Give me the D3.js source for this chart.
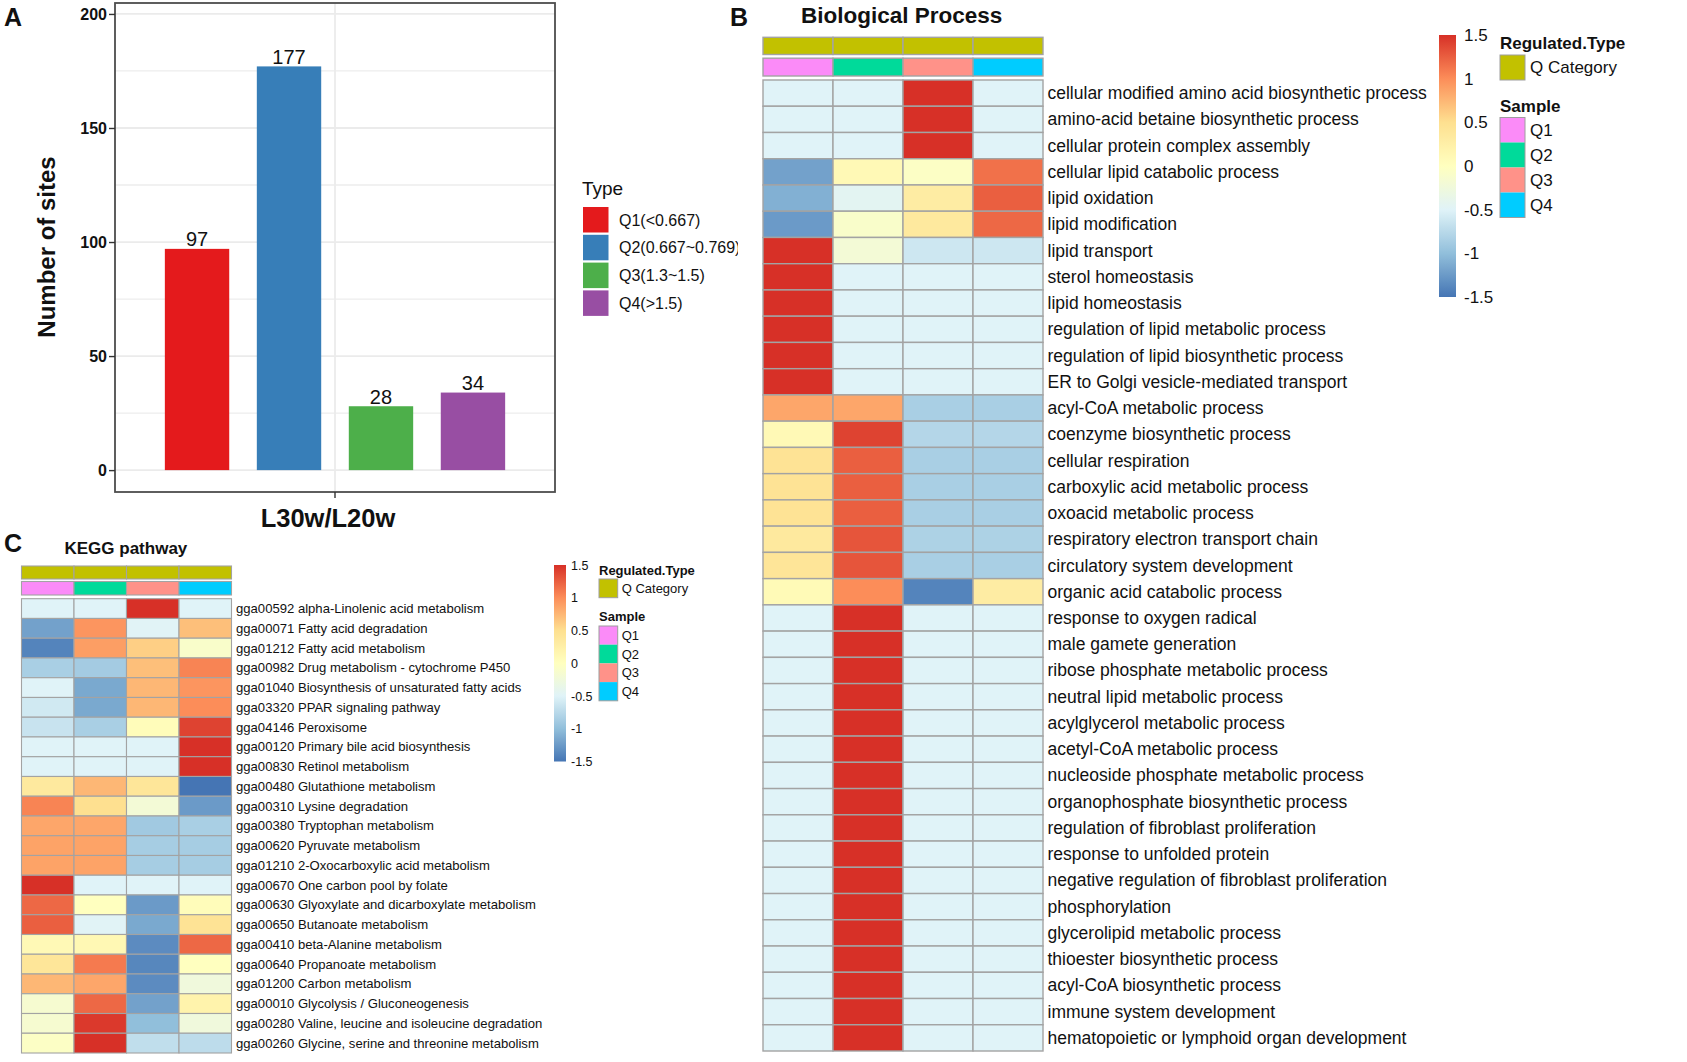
<!DOCTYPE html>
<html>
<head>
<meta charset="utf-8">
<script src="https://cdn.jsdelivr.net/npm/d3@7"></script>
<style>
  body { margin: 0; background: #fff; }
  svg { display: block; font-family: "Liberation Sans", Arial, Helvetica, sans-serif; }
</style>
</head>
<body>
<script>
// ---------------- DATA ----------------
// Panel A: bar chart
const barGroup = ["L30w/L20w"];
const barCategories = ["Q1(<0.667)", "Q2(0.667~0.769)", "Q3(1.3~1.5)", "Q4(>1.5)"];
const barValues = [97, 177, 28, 34];
const barColors = ["#E41A1C", "#377EB8", "#4DAF4A", "#984EA3"];
const yTicksA = [0, 50, 100, 150, 200];
const yMinorA = [25, 75, 125, 175];

// Heatmap shared
const samples = ["Q1", "Q2", "Q3", "Q4"];
const sampleColors = ["#FB8BF8", "#00DA9A", "#FF9289", "#00CCFF"];
const regulatedType = ["Q Category"];
const regulatedColor = ["#C2C100"];
const colorbarTicks = [1.5, 1, 0.5, 0, -0.5, -1, -1.5];
const paletteStops = [-1.5, -1, -0.5, 0, 0.5, 1, 1.5];
const paletteColors = ["#4575B4", "#91BFDB", "#E0F3F8", "#FFFFBF", "#FEE090", "#FC8D59", "#D73027"];

// Panel B: Biological Process
const bpTerms = [
  "cellular modified amino acid biosynthetic process",
  "amino-acid betaine biosynthetic process",
  "cellular protein complex assembly",
  "cellular lipid catabolic process",
  "lipid oxidation",
  "lipid modification",
  "lipid transport",
  "sterol homeostasis",
  "lipid homeostasis",
  "regulation of lipid metabolic process",
  "regulation of lipid biosynthetic process",
  "ER to Golgi vesicle-mediated transport",
  "acyl-CoA metabolic process",
  "coenzyme biosynthetic process",
  "cellular respiration",
  "carboxylic acid metabolic process",
  "oxoacid metabolic process",
  "respiratory electron transport chain",
  "circulatory system development",
  "organic acid catabolic process",
  "response to oxygen radical",
  "male gamete generation",
  "ribose phosphate metabolic process",
  "neutral lipid metabolic process",
  "acylglycerol metabolic process",
  "acetyl-CoA metabolic process",
  "nucleoside phosphate metabolic process",
  "organophosphate biosynthetic process",
  "regulation of fibroblast proliferation",
  "response to unfolded protein",
  "negative regulation of fibroblast proliferation",
  "phosphorylation",
  "glycerolipid metabolic process",
  "thioester biosynthetic process",
  "acyl-CoA biosynthetic process",
  "immune system development",
  "hematopoietic or lymphoid organ development"
];
const bpQ1 = [-0.5,-0.5,-0.5,-1.2,-1.1,-1.25,1.5,1.5,1.5,1.5,1.5,1.5,0.85,0.1,0.45,0.45,0.45,0.35,0.42,0.08,
  -0.5,-0.5,-0.5,-0.5,-0.5,-0.5,-0.5,-0.5,-0.5,-0.5,-0.5,-0.5,-0.5,-0.5,-0.5,-0.5,-0.5];
const bpQ2 = [-0.5,-0.5,-0.5,0.1,-0.45,-0.1,-0.2,-0.5,-0.5,-0.5,-0.5,-0.5,0.85,1.4,1.25,1.25,1.25,1.3,1.3,1.0,
  1.5,1.5,1.5,1.5,1.5,1.5,1.5,1.5,1.5,1.5,1.5,1.5,1.5,1.5,1.5,1.5,1.5];
const bpQ3 = [1.5,1.5,1.5,-0.05,0.3,0.35,-0.62,-0.5,-0.5,-0.5,-0.5,-0.5,-0.85,-0.78,-0.85,-0.85,-0.85,-0.82,-0.85,-1.4,
  -0.5,-0.5,-0.5,-0.5,-0.5,-0.5,-0.5,-0.5,-0.5,-0.5,-0.5,-0.5,-0.5,-0.5,-0.5,-0.5,-0.5];
const bpQ4 = [-0.5,-0.5,-0.5,1.15,1.25,1.2,-0.62,-0.5,-0.5,-0.5,-0.5,-0.5,-0.85,-0.78,-0.85,-0.85,-0.85,-0.82,-0.85,0.3,
  -0.5,-0.5,-0.5,-0.5,-0.5,-0.5,-0.5,-0.5,-0.5,-0.5,-0.5,-0.5,-0.5,-0.5,-0.5,-0.5,-0.5];

// Panel C: KEGG pathway
const keggTerms = [
  "gga00592 alpha-Linolenic acid metabolism",
  "gga00071 Fatty acid degradation",
  "gga01212 Fatty acid metabolism",
  "gga00982 Drug metabolism - cytochrome P450",
  "gga01040 Biosynthesis of unsaturated fatty acids",
  "gga03320 PPAR signaling pathway",
  "gga04146 Peroxisome",
  "gga00120 Primary bile acid biosynthesis",
  "gga00830 Retinol metabolism",
  "gga00480 Glutathione metabolism",
  "gga00310 Lysine degradation",
  "gga00380 Tryptophan metabolism",
  "gga00620 Pyruvate metabolism",
  "gga01210 2-Oxocarboxylic acid metabolism",
  "gga00670 One carbon pool by folate",
  "gga00630 Glyoxylate and dicarboxylate metabolism",
  "gga00650 Butanoate metabolism",
  "gga00410 beta-Alanine metabolism",
  "gga00640 Propanoate metabolism",
  "gga01200 Carbon metabolism",
  "gga00010 Glycolysis / Gluconeogenesis",
  "gga00280 Valine, leucine and isoleucine degradation",
  "gga00260 Glycine, serine and threonine metabolism"
];
const keggQ1 = [-0.5,-1.2,-1.4,-0.85,-0.5,-0.6,-0.65,-0.5,-0.5,0.35,1.05,0.85,0.87,0.87,1.5,1.2,1.25,0.1,0.4,0.75,-0.15,-0.15,-0.05];
const keggQ2 = [-0.5,0.95,0.9,-0.88,-1.15,-1.15,-0.85,-0.5,-0.5,0.75,0.5,0.85,0.87,0.87,-0.5,0.0,-0.48,0.12,1.1,0.85,1.2,1.45,1.5];
const keggQ3 = [1.5,-0.48,0.6,0.7,0.75,0.75,0.05,-0.5,-0.5,0.4,-0.2,-0.9,-0.87,-0.87,-0.5,-1.25,-1.15,-1.35,-1.38,-1.35,-1.2,-1.0,-0.7];
const keggQ4 = [-0.5,0.7,-0.1,1.05,0.95,1.0,1.4,1.5,1.5,-1.5,-1.25,-0.85,-0.87,-0.87,-0.5,0.05,0.45,1.2,0.0,-0.25,0.2,-0.25,-0.72];

// ---------------- DRAWING ----------------
const W = 1687, H = 1062;
const svg = d3.select("body").append("svg").attr("width", W).attr("height", H);
const defs = svg.append("defs");

const heatColor = d3.scaleLinear().domain(paletteStops).range(paletteColors).interpolate(d3.interpolateRgb).clamp(true);

// ===== Panel A =====
const A = { left: 115, right: 555, top: 3, bottom: 492 };
const gA = svg.append("g");
const yA = d3.scaleLinear().domain([-9.6, 204.8]).range([A.bottom, A.top]);
const x0 = d3.scaleBand().domain(barGroup).range([A.left, A.right]).paddingInner(0).paddingOuter(0.098);
const x1 = d3.scaleBand().domain(barCategories).range([0, x0.bandwidth()]).paddingInner(0.3).paddingOuter(0.15);

gA.selectAll("line.minor").data(yMinorA).join("line")
  .attr("x1", A.left).attr("x2", A.right)
  .attr("y1", d => yA(d)).attr("y2", d => yA(d))
  .attr("stroke", "#EDEDED").attr("stroke-width", 1.3);
gA.selectAll("line.major").data(yTicksA).join("line")
  .attr("x1", A.left).attr("x2", A.right)
  .attr("y1", d => yA(d)).attr("y2", d => yA(d))
  .attr("stroke", "#EBEBEB").attr("stroke-width", 1.8);
gA.selectAll("line.vmajor").data(barGroup).join("line")
  .attr("x1", d => x0(d) + x0.bandwidth() / 2).attr("x2", d => x0(d) + x0.bandwidth() / 2)
  .attr("y1", A.top).attr("y2", A.bottom)
  .attr("stroke", "#EBEBEB").attr("stroke-width", 1.8);

const barData = barCategories.map((c, i) => ({ c, v: barValues[i], col: barColors[i] }));
gA.selectAll("rect.bar").data(barData).join("rect")
  .attr("x", d => x0(barGroup[0]) + x1(d.c))
  .attr("y", d => yA(d.v))
  .attr("width", x1.bandwidth())
  .attr("height", d => yA(0) - yA(d.v))
  .attr("fill", d => d.col);
gA.selectAll("text.val").data(barData).join("text")
  .attr("x", d => x0(barGroup[0]) + x1(d.c) + x1.bandwidth() / 2)
  .attr("y", d => yA(d.v) - 2.5)
  .attr("text-anchor", "middle")
  .attr("font-size", 20).attr("fill", "#111")
  .text(d => d.v);

gA.append("rect").attr("x", A.left).attr("y", A.top)
  .attr("width", A.right - A.left).attr("height", A.bottom - A.top)
  .attr("fill", "none").attr("stroke", "#4D4D4D").attr("stroke-width", 1.8);

const yAxisA = gA.append("g").attr("transform", `translate(${A.left},0)`)
  .call(d3.axisLeft(yA).tickValues(yTicksA).tickSize(6).tickPadding(2));
yAxisA.select(".domain").remove();
yAxisA.selectAll(".tick line").attr("stroke", "#333").attr("stroke-width", 1.4);
yAxisA.selectAll(".tick text").attr("font-size", 16).attr("font-weight", "bold").attr("fill", "#111")
  .attr("font-family", "Liberation Sans, Arial, sans-serif");

const xAxisA = gA.append("g").attr("transform", `translate(0,${A.bottom})`)
  .call(d3.axisBottom(x0).tickSize(6).tickFormat(""));
xAxisA.select(".domain").remove();
xAxisA.selectAll(".tick line").attr("stroke", "#333").attr("stroke-width", 1.4);

gA.append("text").attr("transform", `translate(46,247) rotate(-90)`)
  .attr("text-anchor", "middle").attr("dominant-baseline", "central")
  .attr("font-size", 24).attr("font-weight", "bold").attr("fill", "#111")
  .text("Number of sites");
gA.append("text").attr("x", 328).attr("y", 518)
  .attr("text-anchor", "middle").attr("dominant-baseline", "central")
  .attr("font-size", 25.5).attr("font-weight", "bold").attr("fill", "#111")
  .text(barGroup[0]);

// Legend A
defs.append("clipPath").attr("id", "clipA")
  .append("rect").attr("x", 560).attr("y", 150).attr("width", 178).attr("height", 200);
const legA = svg.append("g").attr("clip-path", "url(#clipA)");
legA.append("text").attr("x", 582).attr("y", 188).attr("dominant-baseline", "central")
  .attr("font-size", 19).attr("fill", "#111").text("Type");
legA.selectAll("rect").data(barData).join("rect")
  .attr("x", 583).attr("y", (d, i) => 207 + i * 27.8)
  .attr("width", 25.5).attr("height", 25.5).attr("fill", d => d.col);
legA.selectAll("text.lab").data(barData).join("text").attr("class", "lab")
  .attr("x", 619).attr("y", (d, i) => 207 + i * 27.8 + 13)
  .attr("dominant-baseline", "central")
  .attr("font-size", 16).attr("fill", "#111").text(d => d.c);

// Panel letters
svg.append("text").attr("x", 4).attr("y", 17).attr("dominant-baseline", "central")
  .attr("font-size", 25).attr("font-weight", "bold").attr("fill", "#111").text("A");
svg.append("text").attr("x", 730).attr("y", 17).attr("dominant-baseline", "central")
  .attr("font-size", 25).attr("font-weight", "bold").attr("fill", "#111").text("B");
svg.append("text").attr("x", 4).attr("y", 543).attr("dominant-baseline", "central")
  .attr("font-size", 25).attr("font-weight", "bold").attr("fill", "#111").text("C");

// ===== Heatmap helper =====
function drawHeatmap(o) {
  const g = svg.append("g");
  const xs = d3.scaleBand().domain(samples).range([o.x0, o.x1]);
  const ys = d3.scaleBand().domain(o.terms).range([o.y0, o.y1]);
  const cols = [o.q1, o.q2, o.q3, o.q4];
  const cells = [];
  o.terms.forEach((t, r) => samples.forEach((s, c) => cells.push({ t, s, v: cols[c][r] })));

  // annotation rows
  g.selectAll("rect.ann1").data(samples).join("rect")
    .attr("x", d => xs(d)).attr("y", o.ann1[0]).attr("width", xs.bandwidth()).attr("height", o.ann1[1] - o.ann1[0])
    .attr("fill", regulatedColor[0]).attr("stroke", o.border).attr("stroke-width", o.bw);
  g.selectAll("rect.ann2").data(samples).join("rect")
    .attr("x", d => xs(d)).attr("y", o.ann2[0]).attr("width", xs.bandwidth()).attr("height", o.ann2[1] - o.ann2[0])
    .attr("fill", (d, i) => sampleColors[i]).attr("stroke", o.border).attr("stroke-width", o.bw);

  g.selectAll("rect.cell").data(cells).join("rect")
    .attr("x", d => xs(d.s)).attr("y", d => ys(d.t))
    .attr("width", xs.bandwidth()).attr("height", ys.bandwidth())
    .attr("fill", d => heatColor(d.v)).attr("stroke", o.border).attr("stroke-width", o.bw);

  g.selectAll("text.row").data(o.terms).join("text")
    .attr("x", o.labelX).attr("y", d => ys(d) + ys.bandwidth() / 2)
    .attr("dominant-baseline", "central")
    .attr("font-size", o.labelSize).attr("fill", "#111").text(d => d);

  g.append("text").attr("x", o.titleX).attr("y", o.titleY).attr("dominant-baseline", "central")
    .attr("font-size", o.titleSize).attr("font-weight", "bold").attr("fill", "#111").text(o.title);

  // colorbar
  const gid = "grad" + o.id;
  const grad = defs.append("linearGradient").attr("id", gid)
    .attr("x1", 0).attr("y1", 1).attr("x2", 0).attr("y2", 0);
  d3.range(0, 31).forEach(i => {
    const v = -1.5 + i * 0.1;
    grad.append("stop").attr("offset", (i / 30)).attr("stop-color", heatColor(v));
  });
  const cb = o.cb;
  g.append("rect").attr("x", cb.x).attr("y", cb.y0).attr("width", cb.w).attr("height", cb.y1 - cb.y0)
    .attr("fill", `url(#${gid})`);
  const cbScale = d3.scaleLinear().domain([-1.5, 1.5]).range([cb.y1, cb.y0]);
  const cbAxis = g.append("g").attr("transform", `translate(${cb.x + cb.w},0)`)
    .call(d3.axisRight(cbScale).tickValues(colorbarTicks).tickSize(0).tickPadding(cb.pad).tickFormat(d => String(d)));
  cbAxis.select(".domain").remove();
  cbAxis.selectAll(".tick text").attr("font-size", cb.fs).attr("fill", "#111")
    .attr("font-family", "Liberation Sans, Arial, sans-serif");

  // legends
  const L = o.leg;
  g.append("text").attr("x", L.x).attr("y", L.t1).attr("dominant-baseline", "central")
    .attr("font-size", L.tfs).attr("font-weight", "bold").attr("fill", "#111").text("Regulated.Type");
  g.selectAll("rect.rt").data(regulatedType).join("rect")
    .attr("x", L.x).attr("y", L.k1).attr("width", L.ks).attr("height", L.ks)
    .attr("fill", regulatedColor[0]).attr("stroke", "#9E9E9E").attr("stroke-width", 1);
  g.selectAll("text.rt").data(regulatedType).join("text")
    .attr("x", L.x + L.ks + L.gap).attr("y", L.k1 + L.ks / 2).attr("dominant-baseline", "central")
    .attr("font-size", L.lfs).attr("fill", "#111").text(d => d);
  g.append("text").attr("x", L.x).attr("y", L.t2).attr("dominant-baseline", "central")
    .attr("font-size", L.tfs).attr("font-weight", "bold").attr("fill", "#111").text("Sample");
  g.selectAll("rect.sm").data(samples).join("rect")
    .attr("x", L.x).attr("y", (d, i) => L.k2 + i * L.ks).attr("width", L.ks).attr("height", L.ks)
    .attr("fill", (d, i) => sampleColors[i]);
  g.append("rect").attr("x", L.x).attr("y", L.k2).attr("width", L.ks).attr("height", L.ks * samples.length)
    .attr("fill", "none").attr("stroke", "#9E9E9E").attr("stroke-width", 1);
  g.selectAll("text.sm").data(samples).join("text")
    .attr("x", L.x + L.ks + L.gap).attr("y", (d, i) => L.k2 + i * L.ks + L.ks / 2).attr("dominant-baseline", "central")
    .attr("font-size", L.lfs).attr("fill", "#111").text(d => d);
}

drawHeatmap({
  id: "B", terms: bpTerms, q1: bpQ1, q2: bpQ2, q3: bpQ3, q4: bpQ4,
  x0: 763, x1: 1043, y0: 80, y1: 1051,
  ann1: [37.3, 54.5], ann2: [58.2, 76],
  border: "#A3A3A3", bw: 1.4,
  labelX: 1047.5, labelSize: 17.5,
  title: "Biological Process", titleX: 801, titleY: 15, titleSize: 22.5,
  cb: { x: 1439, w: 17, y0: 35, y1: 297, pad: 8, fs: 17 },
  leg: { x: 1500, t1: 43, k1: 55, t2: 106, k2: 117.5, ks: 25, gap: 5, tfs: 17, lfs: 17 }
});

drawHeatmap({
  id: "C", terms: keggTerms, q1: keggQ1, q2: keggQ2, q3: keggQ3, q4: keggQ4,
  x0: 21.5, x1: 231.5, y0: 598.7, y1: 1053,
  ann1: [566, 579], ann2: [581.5, 595],
  border: "#A3A3A3", bw: 1.1,
  labelX: 236, labelSize: 13.1,
  title: "KEGG pathway", titleX: 64.5, titleY: 548.5, titleSize: 17,
  cb: { x: 554, w: 12, y0: 565, y1: 761.5, pad: 5, fs: 12.5 },
  leg: { x: 599, t1: 570, k1: 579, t2: 616, k2: 626, ks: 18.7, gap: 4, tfs: 13, lfs: 13 }
});
</script>
</body>
</html>
